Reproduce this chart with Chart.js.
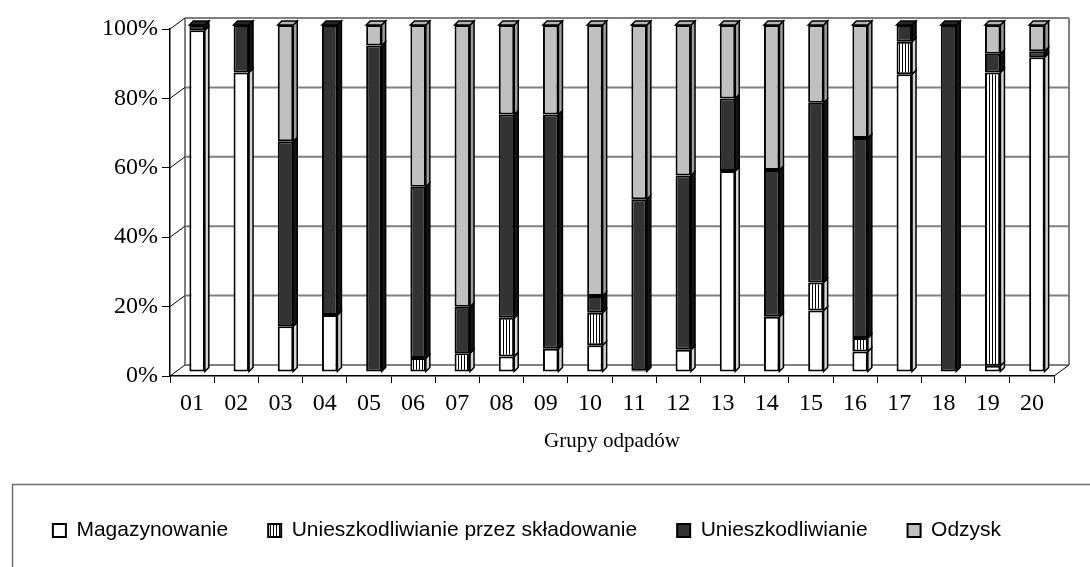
<!DOCTYPE html>
<html>
<head>
<meta charset="utf-8">
<script src="https://cdn.jsdelivr.net/npm/chart.js@4.4.0/dist/chart.umd.min.js"></script>
<style>
  html, body { margin: 0; padding: 0; background: #fff; }
</style>
</head>
<body>
<canvas id="wykresOdpadow" width="1090" height="567"></canvas>
<script>
// Dane (w %)
var grupy = ['01', '02', '03', '04', '05', '06', '07', '08', '09', '10',
             '11', '12', '13', '14', '15', '16', '17', '18', '19', '20'];
var magazynowanie     = [98.5, 86.3, 13.2, 16.4, 0, 0, 0, 4.5, 6.7, 7.7, 0.5, 6.4, 57.9, 15.9, 17.7, 5.9, 85.8, 0, 1.8, 90.7];
var skladowanie       = [0, 0, 0, 0, 0, 4.0, 5.4, 11.1, 0, 9.4, 0, 0, 0, 0, 8.1, 3.9, 9.4, 0, 84.5, 0];
var unieszkodliwianie = [1.5, 13.7, 53.3, 83.6, 94.1, 49.4, 13.4, 58.6, 67.5, 4.8, 49.3, 50.2, 20.9, 42.3, 51.8, 57.6, 4.8, 100, 5.4, 1.7];
var odzysk            = [0, 0, 33.5, 0, 5.9, 46.6, 81.2, 25.8, 25.8, 78.1, 50.2, 43.4, 21.2, 41.8, 22.4, 32.6, 0, 0, 8.3, 7.6];
var etykietyY = [0, 20, 40, 60, 80, 100];

// Wzor w pionowe paski
function wzorPaski() {
    var c = document.createElement('canvas');
    c.width = 3; c.height = 3;
    var g = c.getContext('2d');
    g.fillStyle = '#ffffff';
    g.fillRect(0, 0, 3, 3);
    g.fillStyle = '#000000';
    g.fillRect(0, 0, 1, 3);
    return g.createPattern(c, 'repeat');
}

var ctx = document.getElementById('wykresOdpadow').getContext('2d');
var paski = wzorPaski();

// efekt 3D
var glebia = 4;
var sciana = { x: 15, y: -11 };
var przesuniecie = { x: 5, y: -4 };
var kolorBoku = ['#d4d4d4', '#d4d4d4', '#141414', '#9c9c9c'];
var kolorGory = ['#eeeeee', '#eeeeee', '#262626', '#b4b4b4'];

var efekt3d = {
    id: 'efekt3d',
    beforeDraw: function(chart) {
        var c = chart.ctx;
        c.save();
        c.strokeStyle = '#6e6e6e';
        c.lineWidth = 1.5;
        c.strokeRect(12.5, 484.5, 1100, 120);
        c.restore();
    },
    beforeDatasetsDraw: function(chart) {
        var c = chart.ctx, a = chart.chartArea, y = chart.scales.y;
        c.save();
        c.strokeStyle = '#808080';
        c.lineWidth = 2;
        c.beginPath();
        y.ticks.forEach(function(t) {
            var py = y.getPixelForValue(t.value);
            c.moveTo(a.left + sciana.x, py + sciana.y);
            c.lineTo(a.right + sciana.x, py + sciana.y);
        });
        c.moveTo(a.left + sciana.x, a.top + sciana.y);
        c.lineTo(a.left + sciana.x, a.bottom + sciana.y);
        c.moveTo(a.right + sciana.x, a.top + sciana.y);
        c.lineTo(a.right + sciana.x, a.bottom + sciana.y);
        c.stroke();
        c.strokeStyle = '#000';
        c.lineWidth = 1;
        c.beginPath();
        y.ticks.forEach(function(t) {
            var py = y.getPixelForValue(t.value);
            c.moveTo(a.left, py);
            c.lineTo(a.left + sciana.x, py + sciana.y);
        });
        c.moveTo(a.right, a.bottom);
        c.lineTo(a.right + sciana.x, a.bottom + sciana.y);
        c.stroke();
        c.restore();
        c.save();
        c.translate(przesuniecie.x, przesuniecie.y);
    },
    afterDatasetsDraw: function(chart) {
        var c = chart.ctx;
        var zbiory = chart.data.datasets;
        c.strokeStyle = '#000';
        c.lineWidth = 1.5;
        c.lineJoin = 'miter';
        zbiory.forEach(function(ds, i) {
            var meta = chart.getDatasetMeta(i);
            meta.data.forEach(function(el, j) {
                var p = el.getProps(['x', 'y', 'base', 'width'], true);
                if (Math.abs(p.base - p.y) < 0.5) return;
                var lewy = p.x - p.width / 2, prawy = p.x + p.width / 2;
                var gora = Math.min(p.y, p.base), dol = Math.max(p.y, p.base);
                c.fillStyle = kolorBoku[i];
                c.beginPath();
                c.moveTo(prawy, gora);
                c.lineTo(prawy + glebia, gora - glebia);
                c.lineTo(prawy + glebia, dol - glebia);
                c.lineTo(prawy, dol);
                c.closePath();
                c.fill();
                c.stroke();
                var najwyzszy = true;
                for (var k = i + 1; k < zbiory.length; k++) {
                    if (zbiory[k].data[j] > 0) najwyzszy = false;
                }
                if (najwyzszy) {
                    c.fillStyle = kolorGory[i];
                    c.beginPath();
                    c.moveTo(lewy, gora);
                    c.lineTo(lewy + glebia, gora - glebia);
                    c.lineTo(prawy + glebia, gora - glebia);
                    c.lineTo(prawy, gora);
                    c.closePath();
                    c.fill();
                    c.stroke();
                }
            });
        });
        c.restore();
    }
};

function zbior(nazwa, dane, tlo) {
    return {
        label: nazwa,
        data: dane,
        backgroundColor: tlo,
        borderColor: '#000000',
        borderWidth: 2,
        borderSkipped: false,
        categoryPercentage: 1,
        barPercentage: 0.35,
        clip: false
    };
}

Chart.defaults.font.family = '"Liberation Serif", "Times New Roman", serif';
Chart.defaults.color = '#000';

var wykres = new Chart(ctx, {
    type: 'bar',
    data: {
        labels: grupy,
        datasets: [
            zbior('Magazynowanie', magazynowanie, '#ffffff'),
            zbior('Unieszkodliwianie przez składowanie', skladowanie, paski),
            zbior('Unieszkodliwianie', unieszkodliwianie, '#333333'),
            zbior('Odzysk', odzysk, '#c0c0c0')
        ]
    },
    options: {
        responsive: false,
        animation: false,
        layout: {
            padding: { top: 29, right: 36, bottom: 16, left: 0 }
        },
        scales: {
            x: {
                stacked: true,
                grid: { drawOnChartArea: false, tickLength: 7, color: '#000', offset: true },
                border: { color: '#000', width: 1.5 },
                ticks: { font: { size: 24 }, padding: 6, maxRotation: 0, autoSkip: false },
                title: {
                    display: true,
                    text: 'Grupy odpadów',
                    font: { size: 21 },
                    padding: { top: 5, bottom: 26 }
                }
            },
            y: {
                stacked: true,
                min: 0,
                max: 100,
                afterFit: function(skala) { skala.width = 170; },
                afterBuildTicks: function(skala) {
                    skala.ticks = etykietyY.map(function(v) { return { value: v }; });
                },
                grid: { drawOnChartArea: false, tickLength: 8, color: '#000' },
                border: { color: '#000', width: 1.5 },
                ticks: {
                    font: { size: 24 },
                    padding: 4,
                    callback: function(v) { return v + '%'; }
                }
            }
        },
        plugins: {
            legend: {
                display: true,
                position: 'bottom',
                labels: {
                    font: { family: '"Liberation Sans", Arial, sans-serif', size: 21 },
                    color: '#000',
                    boxWidth: 13,
                    boxHeight: 13,
                    padding: 40
                }
            },
            tooltip: { enabled: false }
        }
    },
    plugins: [efekt3d]
});
</script>
</body>
</html>
